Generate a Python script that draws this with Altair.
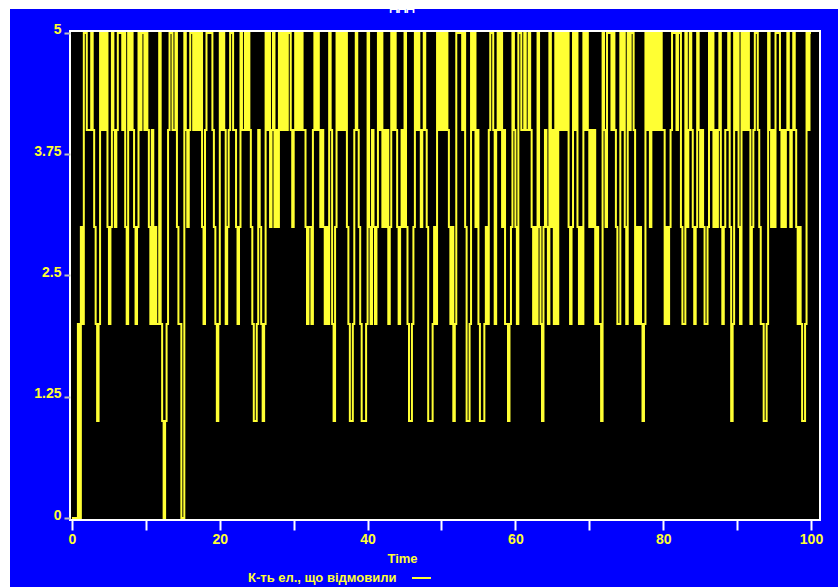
import altair as alt
import pandas as pd

# Number of failed elements, sampled every 0.2 time units, one list per 10 units of time
TIME_STEP = 0.2

failed_00_10 = [0, 0, 0, 0, 2, 0, 3, 2, 5, 5, 4, 4, 4, 5, 4, 3, 2, 1, 2, 5,
                4, 5, 4, 5, 3, 2, 3, 5, 4, 3, 4, 5, 5, 5, 4, 5, 3, 2, 5, 4,
                5, 4, 3, 2, 3, 5, 4, 5, 5, 4]
failed_10_20 = [5, 4, 3, 2, 4, 2, 3, 2, 2, 5, 2, 1, 0, 1, 2, 4, 5, 5, 4, 4,
                5, 3, 2, 2, 0, 0, 5, 4, 3, 4, 5, 5, 4, 5, 4, 5, 4, 5, 3, 2,
                4, 5, 5, 5, 5, 4, 3, 2, 1, 2]
failed_20_30 = [5, 4, 5, 4, 2, 3, 4, 5, 5, 4, 4, 3, 2, 3, 5, 4, 4, 5, 4, 5,
                4, 3, 2, 1, 1, 2, 4, 3, 2, 1, 2, 5, 4, 5, 3, 4, 5, 3, 4, 3,
                5, 4, 5, 4, 5, 4, 5, 5, 4, 3]
failed_30_40 = [4, 5, 4, 5, 4, 5, 4, 4, 3, 2, 3, 3, 2, 4, 5, 4, 5, 4, 3, 4,
                3, 2, 3, 2, 5, 4, 2, 1, 3, 5, 4, 5, 4, 5, 4, 5, 3, 2, 1, 1,
                2, 4, 5, 4, 3, 2, 1, 1, 1, 2]
failed_40_50 = [5, 3, 2, 4, 3, 2, 3, 5, 4, 5, 3, 4, 3, 4, 2, 3, 5, 4, 5, 4,
                3, 2, 3, 4, 3, 5, 3, 2, 1, 1, 2, 3, 5, 4, 5, 4, 3, 4, 5, 4,
                3, 1, 1, 1, 2, 3, 2, 5, 4, 5]
failed_50_60 = [4, 5, 4, 5, 4, 3, 2, 3, 1, 2, 5, 5, 5, 5, 4, 5, 3, 1, 1, 2,
                5, 4, 5, 3, 4, 2, 1, 1, 1, 2, 3, 2, 4, 5, 5, 4, 2, 4, 5, 4,
                5, 3, 4, 2, 2, 1, 2, 3, 5, 4]
failed_60_70 = [3, 2, 5, 5, 4, 4, 5, 4, 4, 5, 4, 3, 2, 3, 2, 5, 3, 2, 1, 3,
                4, 3, 2, 5, 3, 4, 2, 5, 2, 5, 4, 5, 4, 5, 4, 5, 3, 2, 3, 5,
                4, 5, 3, 2, 3, 2, 5, 4, 5, 4]
failed_70_80 = [3, 4, 3, 4, 2, 3, 2, 2, 1, 5, 4, 3, 5, 5, 5, 4, 5, 4, 3, 2,
                2, 5, 4, 5, 3, 2, 5, 4, 5, 5, 4, 2, 3, 2, 3, 2, 1, 2, 5, 4,
                5, 3, 5, 4, 5, 4, 5, 4, 5, 4]
failed_80_90 = [4, 2, 3, 2, 3, 4, 5, 5, 5, 4, 5, 5, 3, 2, 2, 5, 3, 4, 5, 4,
                3, 2, 3, 5, 4, 3, 4, 3, 2, 2, 3, 5, 4, 5, 3, 4, 3, 4, 5, 3,
                2, 3, 4, 4, 5, 3, 1, 2, 5, 4]
failed_90_100 = [5, 3, 2, 5, 4, 5, 4, 5, 4, 2, 3, 4, 5, 5, 4, 3, 2, 2, 1, 1,
                 2, 5, 4, 3, 4, 3, 5, 5, 5, 4, 3, 4, 3, 4, 5, 4, 3, 4, 5, 4,
                 3, 2, 3, 2, 1, 1, 2, 5, 4, 5]

decades = [failed_00_10, failed_10_20, failed_20_30, failed_30_40, failed_40_50,
           failed_50_60, failed_60_70, failed_70_80, failed_80_90, failed_90_100]

x_ticks = list(range(0, 101, 10))
y_ticks = [0, 1.25, 2.5, 3.75, 5]

CHART_TITLE = "ддд"
X_TITLE = "Time"
SERIES_NAME = "К-ть ел., що відмовили"

failed = [v for d in decades for v in d]
time = [round(i * TIME_STEP, 1) for i in range(len(failed))]
time.append(100.0)
failed.append(failed[-1])
series = pd.DataFrame({"Time": time, "Failed": failed})
single = pd.DataFrame({"k": [0]})

W, H = 750, 489
BLUE = "#0000ff"
YELLOW = "#ffff33"
FONT = "Liberation Sans"

# blue panel behind everything (leaves a thin white margin top and left)
panel = alt.Chart(single).mark_rect(color=BLUE).encode(
    x=alt.value(-60), x2=alt.value(768), y=alt.value(-22), y2=alt.value(556)
)

# black plotting area with a white frame
plot_bg = alt.Chart(single).mark_rect(fill="black", stroke="white", strokeWidth=2).encode(
    x=alt.value(0), x2=alt.value(W), y=alt.value(0), y2=alt.value(H)
)

line = alt.Chart(series).mark_line(
    interpolate="step-after", color=YELLOW, strokeWidth=2
).encode(
    x=alt.X(
        "Time:Q",
        scale=alt.Scale(domain=[-0.27, 101.22], nice=False, zero=False),
        axis=alt.Axis(
            values=x_ticks,
            labelExpr="datum.value % 20 == 0 ? datum.label : ''",
            title=X_TITLE,
            titleColor=YELLOW, titleFont=FONT, titleFontSize=13, titleFontWeight="bold",
            titleX=332, titleY=42, titleAlign="center", titleBaseline="alphabetic",
            labelColor=YELLOW, labelFont=FONT, labelFontSize=14, labelFontWeight="bold",
            labelPadding=2, labelFlush=False, labelOverlap=False,
            tickColor="white", tickWidth=2, tickSize=10,
            domain=False, grid=False, zindex=1,
        ),
    ),
    y=alt.Y(
        "Failed:Q",
        scale=alt.Scale(domain=[-0.02, 5.02], nice=False, zero=False),
        axis=alt.Axis(
            values=y_ticks,
            labelExpr="toString(datum.value)",
            title=None,
            labelColor=YELLOW, labelFont=FONT, labelFontSize=14, labelFontWeight="bold",
            labelBaseline="alphabetic", labelOffset=1, labelPadding=3,
            labelFlush=False, labelOverlap=False,
            tickColor="#c0c0c0", tickWidth=2, tickSize=6,
            domain=False, grid=False, zindex=1,
        ),
    ),
)

title = alt.Chart(single).mark_text(
    color="white", font=FONT, fontSize=13, fontWeight="bold",
    align="center", baseline="alphabetic"
).encode(x=alt.value(332), y=alt.value(-21), text=alt.value(CHART_TITLE))

legend_label = alt.Chart(single).mark_text(
    color=YELLOW, font=FONT, fontSize=13, fontWeight="bold",
    align="left", baseline="alphabetic"
).encode(x=alt.value(178), y=alt.value(551), text=alt.value(SERIES_NAME))

legend_symbol = alt.Chart(single).mark_rule(color=YELLOW, strokeWidth=2).encode(
    x=alt.value(342), x2=alt.value(361), y=alt.value(547)
)

chart = alt.layer(
    panel, plot_bg, line, title, legend_label, legend_symbol
).properties(
    width=W, height=H,
    autosize=alt.AutoSizeParams(type="none"),
    padding={"left": 70, "top": 31, "right": 18, "bottom": 67},
    background="white",
).configure_view(strokeWidth=0)

chart.save("out.html", embed_options={"renderer": "svg", "actions": False})
